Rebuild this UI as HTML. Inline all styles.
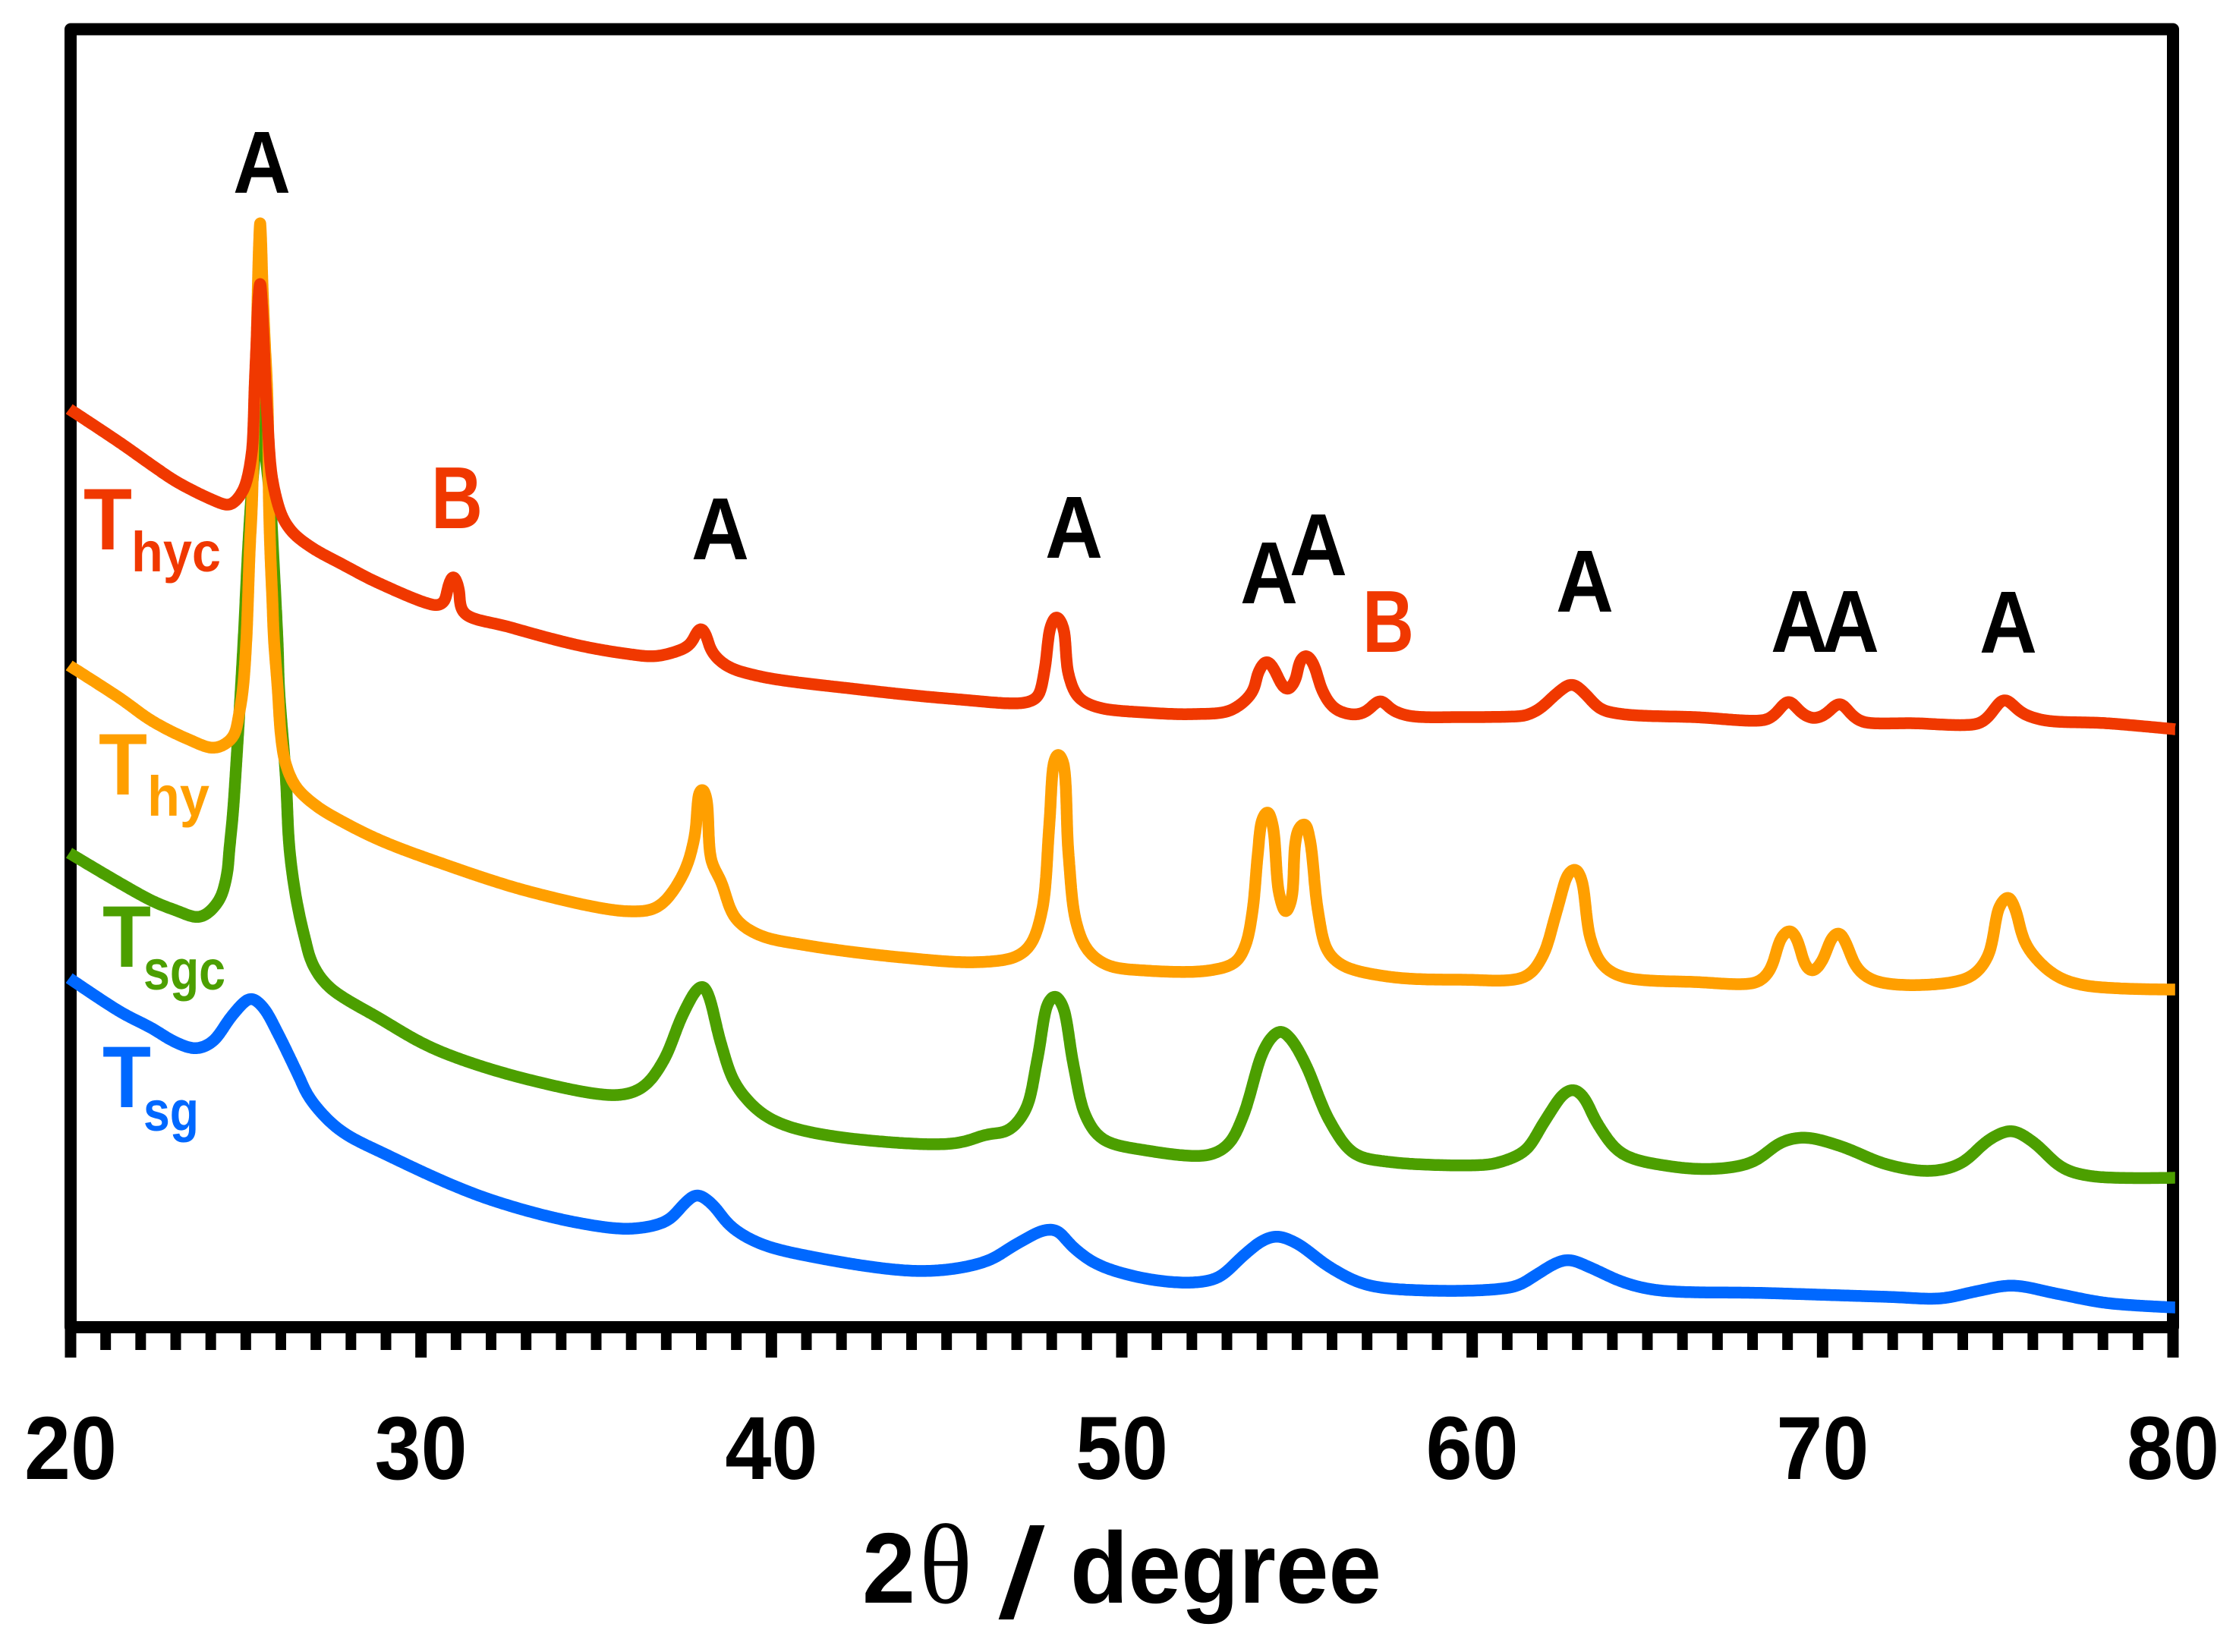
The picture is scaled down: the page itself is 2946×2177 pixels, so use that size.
<!DOCTYPE html>
<html lang="en">
<head>
<meta charset="utf-8">
<title>XRD patterns</title>
<style>
html,body{margin:0;padding:0;background:#fff;}
svg{display:block;}
text{font-family:"Liberation Sans",sans-serif;font-weight:700;}
.peak{font-size:116px;text-anchor:middle;fill:#000;}
.peak-b{font-size:116px;text-anchor:middle;fill:#F03800;}
.t{font-size:115px;}
.sub{font-size:74px;}
.tick{font-size:118px;text-anchor:middle;fill:#000;}
</style>
</head>
<body>
<svg id="chart" xmlns="http://www.w3.org/2000/svg" width="2946" height="2177" viewBox="0 0 2946 2177">
  <rect x="0" y="0" width="2946" height="2177" fill="#fff"/>
  <rect x="93" y="38.5" width="2770" height="1710.5" fill="none" stroke="#000" stroke-width="16" stroke-linejoin="round"/>
  <g id="tick-layer"></g>
  <g id="series-top-layer"></g>

  <g>
    <text class="peak" x="345" y="254" textLength="76" lengthAdjust="spacingAndGlyphs">A</text>
    <text class="peak-b" x="602" y="696" textLength="68" lengthAdjust="spacingAndGlyphs">B</text>
    <text class="peak" x="949" y="737" textLength="76" lengthAdjust="spacingAndGlyphs">A</text>
    <text class="peak" x="1415" y="735" textLength="76" lengthAdjust="spacingAndGlyphs">A</text>
    <text class="peak" x="1672" y="795" textLength="76" lengthAdjust="spacingAndGlyphs">A</text>
    <text class="peak" x="1737" y="758" textLength="76" lengthAdjust="spacingAndGlyphs">A</text>
    <text class="peak-b" x="1829" y="859" textLength="68" lengthAdjust="spacingAndGlyphs">B</text>
    <text class="peak" x="2088" y="806" textLength="76" lengthAdjust="spacingAndGlyphs">A</text>
    <text class="peak" x="2371" y="859" textLength="76" lengthAdjust="spacingAndGlyphs">A</text>
    <text class="peak" x="2438" y="859" textLength="76" lengthAdjust="spacingAndGlyphs">A</text>
    <text class="peak" x="2646" y="860" textLength="76" lengthAdjust="spacingAndGlyphs">A</text>
  </g>

  <g>
    <g fill="#F03800">
      <text class="t" x="110" y="724" textLength="64" lengthAdjust="spacingAndGlyphs">T</text>
      <text class="sub" x="173" y="753" textLength="118" lengthAdjust="spacingAndGlyphs">hyc</text>
    </g>
    <g fill="#FF9F00">
      <text class="t" x="130" y="1047" textLength="64" lengthAdjust="spacingAndGlyphs">T</text>
      <text class="sub" x="194" y="1075" textLength="82" lengthAdjust="spacingAndGlyphs">hy</text>
    </g>
    <g fill="#4C9F00">
      <text class="t" x="135" y="1274" textLength="64" lengthAdjust="spacingAndGlyphs">T</text>
      <text class="sub" x="189" y="1304" textLength="108" lengthAdjust="spacingAndGlyphs">sgc</text>
    </g>
    <g fill="#0068FF">
      <text class="t" x="135" y="1459" textLength="64" lengthAdjust="spacingAndGlyphs">T</text>
      <text class="sub" x="189" y="1490" textLength="73" lengthAdjust="spacingAndGlyphs">sg</text>
    </g>
  </g>

  <g id="tick-label-layer"></g>

  <g fill="#000">
    <text x="1136" y="2112" font-size="132" textLength="70" lengthAdjust="spacingAndGlyphs">2</text>
    <text x="1211" y="2112" font-size="150" textLength="70" lengthAdjust="spacingAndGlyphs" style="font-family:'Liberation Serif','DejaVu Serif',serif;font-weight:400;">θ</text>
    <text x="1318" y="2131" font-size="165" textLength="56" lengthAdjust="spacingAndGlyphs" style="font-weight:400;stroke:#000;stroke-width:3px;">/</text>
    <text x="1410" y="2112" font-size="133" textLength="410" lengthAdjust="spacingAndGlyphs">degree</text>
  </g>
</svg>

<script>
// ---- chart data (2theta in degrees, intensity in arbitrary units) ----
var majorTickLabels = [20, 30, 40, 50, 60, 70, 80];
var minorTickValues = [21,22,23,24,25,26,27,28,29,31,32,33,34,35,36,37,38,39,41,42,43,44,45,46,47,48,49,51,52,53,54,55,56,57,58,59,61,62,63,64,65,66,67,68,69,71,72,73,74,75,76,77,78,79];

var thycTheta = [19.96,21.43,22.32,23.03,24.12,24.55,24.92,25.06,25.18,25.22,25.25,25.31,25.35,25.41,25.46,25.51,25.57,25.63,25.67,25.74,25.89,26.06,26.36,26.93,27.73,28.82,30.48,30.67,30.76,30.92,31.08,31.20,32.50,34.55,35.94,36.63,37.19,37.67,37.84,37.98,38.13,38.29,38.71,39.64,42.40,45.17,47.25,47.59,47.79,47.97,48.13,48.32,48.48,48.76,49.30,50.69,52.08,53.12,53.73,53.90,54.14,54.35,54.57,54.73,54.95,55.09,55.26,55.46,55.74,56.08,56.63,56.97,57.39,57.66,58.15,59.68,61.30,61.52,61.93,62.41,62.85,63.24,63.65,64.27,66.35,68.43,68.69,69.03,69.38,69.73,70.07,70.49,70.83,71.12,72.57,74.49,74.78,75.18,75.67,76.29,78.09,80.06];
var thycIntensity = [1217,1172,1143,1121,1096,1090,1109,1129,1163,1196,1243,1309,1356,1384,1356,1309,1243,1196,1163,1129,1096,1073,1053,1033,1013,987,958,962,981,998,981,949,930,905,894,891,896,906,920,930,920,898,879,865,848,835,830,837,871,931,945,931,867,837,824,817,815,820,844,871,886,874,853,846,859,886,894,882,844,822,814,818,834,822,813,811,812,813,822,842,855,841,822,815,811,808,817,833,817,809,814,830,814,805,803,803,814,835,817,807,803,795];

var thyTheta = [19.96,21.44,22.32,23.40,24.12,24.63,24.81,24.92,25.02,25.06,25.11,25.18,25.22,25.26,25.31,25.35,25.38,25.41,25.44,25.47,25.54,25.61,25.64,25.66,25.70,25.76,25.80,25.91,26.01,26.14,26.43,27.01,27.73,28.82,30.42,33.18,35.94,36.76,37.46,37.80,37.95,38.04,38.15,38.29,38.56,38.97,39.64,41.03,43.78,45.86,46.97,47.38,47.72,47.93,48.07,48.18,48.32,48.48,48.70,49.04,49.59,50.69,52.49,53.25,53.53,53.73,53.88,54.01,54.16,54.31,54.49,54.68,54.84,54.95,55.06,55.22,55.37,55.60,55.87,56.29,57.60,59.68,61.52,62.00,62.41,62.76,62.95,63.12,63.38,63.73,64.27,66.35,68.15,68.49,68.84,69.08,69.27,69.53,69.71,69.97,70.29,70.47,70.66,70.99,71.46,72.85,74.22,74.71,75.06,75.30,75.49,75.82,76.57,77.40,80.06];
var thyIntensity = [879,835,806,781,770,784,816,849,916,963,1029,1096,1183,1243,1309,1389,1436,1464,1436,1389,1309,1243,1183,1096,1029,963,916,849,783,749,719,694,674,649,621,580,555,561,602,651,713,718,703,621,595,546,524,510,494,488,495,510,555,668,753,764,753,630,540,503,484,477,477,488,510,555,630,677,688,668,578,553,570,645,666,672,649,555,503,484,469,465,469,495,555,606,612,597,518,484,469,462,462,477,522,531,518,482,475,488,522,528,514,480,464,458,469,495,563,575,559,510,473,458,452];

var tsgcTheta = [19.96,22.32,23.03,23.69,24.22,24.46,24.53,24.63,24.75,24.93,25.06,25.15,25.26,25.35,25.41,25.47,25.56,25.70,25.78,25.91,25.95,26.14,26.25,26.45,26.69,26.90,27.36,28.82,30.42,33.18,35.66,36.35,36.92,37.46,37.87,38.04,38.21,38.56,38.97,39.64,40.34,41.72,44.63,45.45,46.14,46.75,47.25,47.59,47.90,48.09,48.31,48.62,48.97,49.45,50.69,52.49,53.04,53.46,54.01,54.29,54.54,54.84,55.25,55.94,56.63,57.60,60.37,60.83,61.52,62.06,62.62,62.89,63.17,63.59,64.27,65.66,67.04,68.01,68.84,69.49,70.49,71.87,73.12,73.95,74.78,75.40,76.01,76.85,77.68,80.06];
var tsgcIntensity = [632,569,556,547,568,603,636,683,766,907,1029,1096,1159,1216,1256,1216,1159,1096,1029,907,849,733,636,569,519,486,456,414,373,332,313,324,358,418,452,458,444,381,328,292,274,259,248,251,261,266,293,360,435,445,431,353,285,255,240,234,248,285,368,390,398,386,353,278,236,225,221,225,240,278,315,321,311,274,236,219,216,225,251,257,246,221,213,223,255,266,251,217,206,204];

var tsgTheta = [19.96,21.44,22.32,22.97,23.58,24.05,24.63,25.15,25.49,25.93,26.50,26.82,27.65,29.03,31.80,34.55,36.08,37.05,37.52,37.87,38.29,38.84,39.64,41.03,44.34,46.14,46.97,47.79,48.13,48.62,49.30,50.69,52.08,52.77,53.46,54.01,54.42,54.98,55.94,56.91,58.29,61.24,61.79,62.41,62.76,63.45,64.27,65.25,68.43,71.87,73.39,74.36,75.40,76.70,78.09,80.06];
var tsgIntensity = [467,422,401,383,374,383,419,441,429,393,339,309,268,234,178,144,137,148,170,182,170,140,118,101,81,94,116,135,135,112,90,71,66,73,101,121,127,118,86,64,56,61,75,92,96,84,67,56,52,47,45,54,62,51,39,33];

// ---- axis functions ----
var xDomain = [20, 80];
var xRange = [93, 2863];
var yDomain = [0, 1725];
var yRange = [1756, 31];
function xScale(d) {
  return xRange[0] + (d - xDomain[0]) * (xRange[1] - xRange[0]) / (xDomain[1] - xDomain[0]);
}
function yScale(v) {
  return yRange[0] + (v - yDomain[0]) * (yRange[1] - yRange[0]) / (yDomain[1] - yDomain[0]);
}

var SVG_NS = 'http://www.w3.org/2000/svg';

// centripetal Catmull-Rom sampled densely, then lightly smoothed along the curve
function smoothPath(thetas, values) {
  var pts = [], i, j, k;
  for (i = 0; i < thetas.length; i++) {
    pts.push([xScale(thetas[i]), yScale(values[i])]);
  }
  function dist(a, b) {
    return Math.sqrt(Math.sqrt((a[0] - b[0]) * (a[0] - b[0]) + (a[1] - b[1]) * (a[1] - b[1])));
  }
  var samples = [pts[0].slice()];
  for (i = 0; i < pts.length - 1; i++) {
    var p0 = pts[Math.max(i - 1, 0)], p1 = pts[i], p2 = pts[i + 1], p3 = pts[Math.min(i + 2, pts.length - 1)];
    var l1 = dist(p0, p1), l2 = dist(p1, p2), l3 = dist(p2, p3);
    var b1 = p1.slice(), b2 = p2.slice();
    if (l1 > 1e-6) {
      var a = 2 * l1 * l1 + 3 * l1 * l2 + l2 * l2, n = 3 * l1 * (l1 + l2);
      b1 = [(p1[0] * a - p0[0] * l2 * l2 + p2[0] * l1 * l1) / n, (p1[1] * a - p0[1] * l2 * l2 + p2[1] * l1 * l1) / n];
    }
    if (l3 > 1e-6) {
      var c = 2 * l3 * l3 + 3 * l3 * l2 + l2 * l2, m = 3 * l3 * (l3 + l2);
      b2 = [(p2[0] * c - p3[0] * l2 * l2 + p1[0] * l3 * l3) / m, (p2[1] * c - p3[1] * l2 * l2 + p1[1] * l3 * l3) / m];
    }
    var chord = l2 * l2;
    var steps = Math.max(1, Math.ceil(chord / 2));
    for (j = 1; j <= steps; j++) {
      var t = j / steps, u = 1 - t;
      samples.push([
        u * u * u * p1[0] + 3 * u * u * t * b1[0] + 3 * u * t * t * b2[0] + t * t * t * p2[0],
        u * u * u * p1[1] + 3 * u * u * t * b1[1] + 3 * u * t * t * b2[1] + t * t * t * p2[1]
      ]);
    }
  }
  // three box passes with endpoint reflection so the ends stay in place
  var N = samples.length, radius = 3, pass;
  for (pass = 0; pass < 3; pass++) {
    var next = [];
    for (i = 0; i < N; i++) {
      var sx = 0, sy = 0;
      for (k = -radius; k <= radius; k++) {
        var idx = i + k, q;
        if (idx < 0) {
          q = [2 * samples[0][0] - samples[-idx][0], 2 * samples[0][1] - samples[-idx][1]];
        } else if (idx >= N) {
          var r = 2 * (N - 1) - idx;
          q = [2 * samples[N - 1][0] - samples[r][0], 2 * samples[N - 1][1] - samples[r][1]];
        } else {
          q = samples[idx];
        }
        sx += q[0];
        sy += q[1];
      }
      next.push([sx / (2 * radius + 1), sy / (2 * radius + 1)]);
    }
    samples = next;
  }
  var dStr = 'M' + samples[0][0].toFixed(1) + ' ' + samples[0][1].toFixed(1);
  for (i = 1; i < N; i++) {
    dStr += 'L' + samples[i][0].toFixed(1) + ' ' + samples[i][1].toFixed(1);
  }
  return dStr;
}

function addSeries(thetas, values, color, name) {
  var layer = document.getElementById('series-top-layer');
  var p = document.createElementNS(SVG_NS, 'path');
  p.setAttribute('d', smoothPath(thetas, values));
  p.setAttribute('fill', 'none');
  p.setAttribute('stroke', color);
  p.setAttribute('stroke-width', '15.5');
  p.setAttribute('stroke-linejoin', 'round');
  p.setAttribute('stroke-linecap', 'butt');
  
  
  layer.appendChild(p);
}

addSeries(tsgTheta, tsgIntensity, '#0068FF', 'series-tsg');
addSeries(tsgcTheta, tsgcIntensity, '#4C9F00', 'series-tsgc');
addSeries(thyTheta, thyIntensity, '#FF9F00', 'series-thy');
addSeries(thycTheta, thycIntensity, '#F03800', 'series-thyc');

// ---- ticks ----
var tickLayer = document.getElementById('tick-layer');
var labelLayer = document.getElementById('tick-label-layer');
majorTickLabels.forEach(function (d) {
  var t = document.createElementNS(SVG_NS, 'line');
  t.setAttribute('x1', xScale(d));
  t.setAttribute('x2', xScale(d));
  t.setAttribute('y1', 1749);
  t.setAttribute('y2', 1789);
  t.setAttribute('stroke', '#000');
  t.setAttribute('stroke-width', '15');
  
  
  tickLayer.appendChild(t);

  var l = document.createElementNS(SVG_NS, 'text');
  l.setAttribute('class', 'tick');
  l.setAttribute('x', xScale(d));
  l.setAttribute('y', 1949);
  l.setAttribute('textLength', '122');
  l.setAttribute('lengthAdjust', 'spacingAndGlyphs');
  l.textContent = String(d);
  
  
  labelLayer.appendChild(l);
});
minorTickValues.forEach(function (d) {
  var t = document.createElementNS(SVG_NS, 'line');
  t.setAttribute('x1', xScale(d));
  t.setAttribute('x2', xScale(d));
  t.setAttribute('y1', 1749);
  t.setAttribute('y2', 1779);
  t.setAttribute('stroke', '#000');
  t.setAttribute('stroke-width', '14');
  
  
  tickLayer.appendChild(t);
});
</script>
</body>
</html>
